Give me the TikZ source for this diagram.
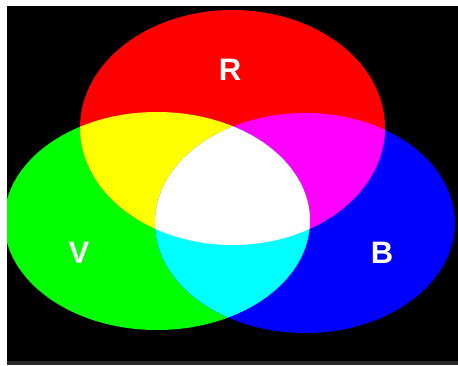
\documentclass[tikz,border=0pt]{standalone}
\usepackage{fontspec}
\setmainfont{Liberation Sans}
\definecolor{rgbred}{HTML}{FF0000}
\definecolor{rgbgreen}{HTML}{00FF00}
\definecolor{rgbblue}{HTML}{0000FF}
\definecolor{rgbyellow}{HTML}{FFFF00}
\definecolor{rgbmagenta}{HTML}{FF00FF}
\definecolor{rgbcyan}{HTML}{00FFFF}
\newcommand{\reddisc}{(232.5,237.5) ellipse [x radius=152.5, y radius=117.5]}
\newcommand{\greendisc}{(157,144) ellipse [x radius=153, y radius=109]}
\newcommand{\bluedisc}{(305,142) ellipse [x radius=150, y radius=110]}
\begin{document}
\begin{tikzpicture}[x=1pt, y=1pt,
  lbl/.style={text=white, font=\bfseries\fontsize{31}{31}\selectfont, inner sep=0pt}]
  \useasboundingbox (0,0) rectangle (458,365);
  \fill[white] (0,0) rectangle (458,365);
  \fill[black!85] (7,0) rectangle (458,4);
  \fill[black] (7,4) rectangle (458,359);
  \begin{scope}
    \clip (7,4) rectangle (458,359);
    % primaries
    \fill[rgbgreen] \greendisc;
    \fill[rgbblue] \bluedisc;
    \fill[rgbred] \reddisc;
    % pairwise mixes
    \begin{scope}
      \clip \reddisc;
      \fill[rgbyellow] \greendisc;
      \fill[rgbmagenta] \bluedisc;
    \end{scope}
    \begin{scope}
      \clip \greendisc;
      \fill[rgbcyan] \bluedisc;
    \end{scope}
    % all three
    \begin{scope}
      \clip \reddisc;
      \clip \greendisc;
      \fill[white] \bluedisc;
    \end{scope}
  \end{scope}
  \node[lbl] (r) at (230,295) {R};
  \node[lbl] (v) at (79,112) {V};
  \node[lbl] (b) at (382,112) {B};
\end{tikzpicture}
\end{document}
